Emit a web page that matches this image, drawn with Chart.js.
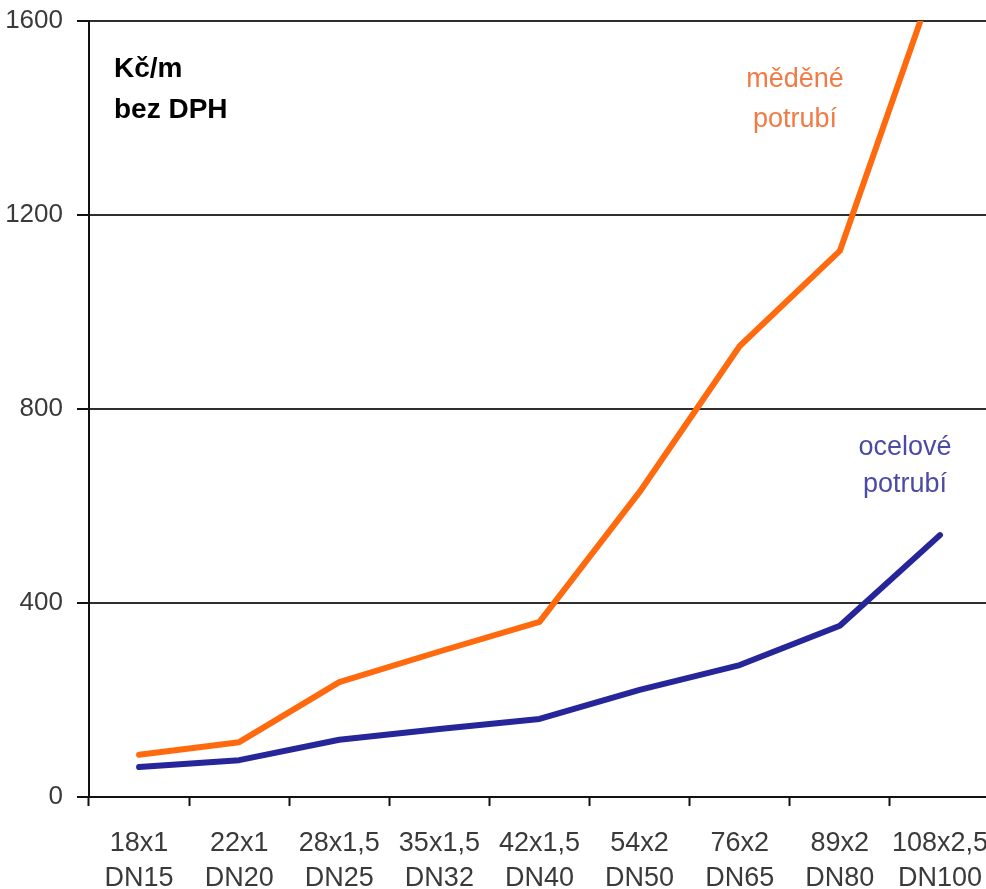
<!DOCTYPE html>
<html lang="cs">
<head>
<meta charset="utf-8">
<title>Cena potrubí Kč/m</title>
<script src="https://cdn.jsdelivr.net/npm/chart.js@4"></script>
<style>
  html, body { margin: 0; padding: 0; background: #fff; overflow: hidden; }
  #wrap { width: 990px; height: 889px; }
</style>
</head>
<body>
<div id="wrap"><canvas id="c" width="990" height="889"></canvas></div>
<script>
// Pipe dimensions (outer diameter x wall) and nominal sizes
const dimensions = ['18x1', '22x1', '28x1,5', '35x1,5', '42x1,5', '54x2', '76x2', '89x2', '108x2,5'];
const nominalSizes = ['DN15', 'DN20', 'DN25', 'DN32', 'DN40', 'DN50', 'DN65', 'DN80', 'DN100'];

// Price per metre without VAT (Kč/m)
const copperPrices = [87, 113, 237, 300, 361, 629, 930, 1126, 1715];
const steelPrices = [62, 76, 118, 140, 161, 221, 272, 353, 540];

// Value axis
const yTicks = [0, 400, 800, 1200, 1600];

const FONT = '"Liberation Sans Narrow", "Arial Narrow", "Liberation Sans", Arial, sans-serif';
const ORANGE = '#ff6a0e';
const BLUE = '#26269a';

const labels = dimensions.map((d, i) => [d, nominalSizes[i]]);

// Text annotations inside the plot: unit note and series names
const notesPlugin = {
  id: 'notes',
  afterDatasetsDraw(chart) {
    const { ctx, chartArea: a } = chart;
    ctx.save();
    ctx.textBaseline = 'alphabetic';

    ctx.fillStyle = '#000';
    ctx.textAlign = 'left';
    ctx.font = 'bold 28px ' + FONT;
    ctx.fillText('Kč/m', a.left + 25, a.top + 56);
    ctx.fillText('bez DPH', a.left + 25, a.top + 97);

    ctx.font = '27px ' + FONT;
    ctx.textAlign = 'center';
    ctx.fillStyle = '#f27a44';
    ctx.fillText('měděné', a.left + 706, a.top + 66);
    ctx.fillText('potrubí', a.left + 706, a.top + 106);

    ctx.fillStyle = '#4b4ba6';
    ctx.fillText('ocelové', a.left + 816, a.top + 434);
    ctx.fillText('potrubí', a.left + 816, a.top + 471);
    ctx.restore();
  }
};

new Chart(document.getElementById('c'), {
  type: 'line',
  data: {
    labels,
    datasets: [
      {
        label: 'měděné potrubí',
        data: copperPrices,
        borderColor: ORANGE,
        borderWidth: 6,
        borderCapStyle: 'round',
        borderJoinStyle: 'round',
        pointRadius: 0,
        tension: 0
      },
      {
        label: 'ocelové potrubí',
        data: steelPrices,
        borderColor: BLUE,
        borderWidth: 6,
        borderCapStyle: 'round',
        borderJoinStyle: 'round',
        pointRadius: 0,
        tension: 0
      }
    ]
  },
  options: {
    responsive: false,
    animation: false,
    layout: { padding: { top: 21, left: 0, right: 0, bottom: 0 } },
    plugins: {
      legend: { display: false },
      tooltip: { enabled: false }
    },
    scales: {
      x: {
        type: 'category',
        offset: true,
        border: { display: true, color: '#111', width: 2 },
        grid: {
          offset: true,
          drawOnChartArea: false,
          drawTicks: true,
          tickLength: 9,
          tickColor: '#111',
          tickWidth: 2
        },
        ticks: {
          autoSkip: false,
          maxRotation: 0,
          padding: 20,
          color: '#3a3a3a',
          font: { family: FONT, size: 27, lineHeight: 1.3 }
        },
        afterFit(scale) {
          scale.height = 889 - 797;
          scale.paddingLeft = 0;
          scale.paddingRight = 0;
        }
      },
      y: {
        min: 0,
        max: 1600,
        afterBuildTicks(scale) { scale.ticks = yTicks.map(v => ({ value: v })); },
        border: { display: true, color: '#111', width: 2 },
        grid: {
          color: '#2e2e2e',
          lineWidth: 2,
          drawTicks: true,
          tickLength: 12,
          tickColor: '#111',
          tickWidth: 2
        },
        ticks: {
          padding: 14,
          color: '#3a3a3a',
          font: { family: FONT, size: 26 },
          callback: (v) => String(v)
        },
        afterFit(scale) {
          scale.width = 89;
          scale.paddingTop = 0;
          scale.paddingBottom = 0;
        }
      }
    }
  },
  plugins: [notesPlugin]
});
</script>
</body>
</html>
